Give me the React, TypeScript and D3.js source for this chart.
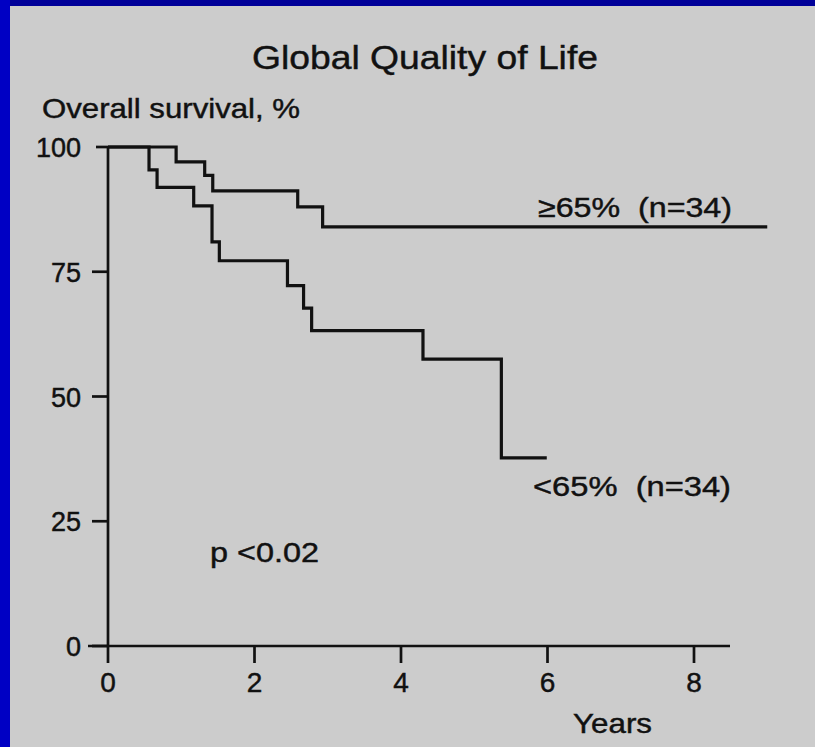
import React from "react";
import * as d3 from "d3";

// Kaplan–Meier steps: time (years) and overall survival (%)
const highQolTimes = [0, 0.93, 1.32, 1.43, 2.59, 2.93, 9.0];
const highQolSurvival = [100, 97, 94.3, 91.2, 88, 84, 84];

const lowQolTimes = [0, 0.56, 0.67, 1.17, 1.42, 1.52, 2.45, 2.67, 2.78, 4.3, 5.37, 5.99];
const lowQolSurvival = [100, 95.4, 91.9, 88.2, 81.0, 77.2, 72.2, 67.7, 63.2, 57.5, 37.7, 37.7];

const xTicks = [0, 2, 4, 6, 8];
const yTicks = [0, 25, 50, 75, 100];

const seriesLabels = ["\u226565%  (n=34)", "<65%  (n=34)"];
const pValueLabel = "p <0.02";

const W = 815;
const H = 747;

const x = d3.scaleLinear().domain([0, 8]).range([108, 694]);
const y = d3.scaleLinear().domain([0, 100]).range([646, 147]);

const stepLine = d3
  .line<[number, number]>()
  .x((d) => x(d[0]))
  .y((d) => y(d[1]))
  .curve(d3.curveStepAfter);

const zip = (t: number[], s: number[]): [number, number][] => t.map((v, i) => [v, s[i]]);

const FONT = "Arial, 'Liberation Sans', Helvetica, sans-serif";
const INK = "#111";

// slightly heavier glyphs, like a printed figure
const textInk = { fill: INK, stroke: INK, strokeWidth: 0.45 };

export default function App() {
  const highPath = stepLine(zip(highQolTimes, highQolSurvival)) || "";
  const lowPath = stepLine(zip(lowQolTimes, lowQolSurvival)) || "";

  return (
    <svg
      width={W}
      height={H}
      viewBox={`0 0 ${W} ${H}`}
      style={{ position: "absolute", left: 0, top: 0, display: "block" }}
      fontFamily={FONT}
    >
      <rect x={0} y={0} width={W} height={H} fill="#cccccc" />
      <rect x={0} y={0} width={W} height={6} fill="#000099" />
      <rect x={0} y={0} width={10} height={H} fill="#0000c4" />

      <text x={252} y={69} fontSize={34} {...textInk} textLength={346} lengthAdjust="spacingAndGlyphs">
        Global Quality of Life
      </text>
      <text x={42} y={118} fontSize={28} {...textInk} textLength={258} lengthAdjust="spacingAndGlyphs">
        Overall survival, %
      </text>

      {/* axes */}
      <line x1={x(0)} x2={x(0)} y1={y(100)} y2={y(0)} stroke={INK} strokeWidth={2.7} />
      <line x1={88} x2={730} y1={y(0)} y2={y(0)} stroke={INK} strokeWidth={2.7} />
      {yTicks.map((t) => (
        <g key={`y${t}`}>
          <line x1={t === 100 ? 96 : 92} x2={x(0)} y1={y(t)} y2={y(t)} stroke={INK} strokeWidth={2.7} />
          <text x={81} y={y(t) + 10} fontSize={27} {...textInk} textAnchor="end">
            {t}
          </text>
        </g>
      ))}
      {xTicks.map((t) => (
        <g key={`x${t}`}>
          <line x1={x(t)} x2={x(t)} y1={y(0)} y2={y(0) + 17} stroke={INK} strokeWidth={2.7} />
          <text x={x(t)} y={692} fontSize={28} {...textInk} textAnchor="middle">
            {t}
          </text>
        </g>
      ))}
      <text x={573} y={733} fontSize={28} {...textInk} textLength={79} lengthAdjust="spacingAndGlyphs">
        Years
      </text>

      {/* survival curves */}
      <path d={highPath} fill="none" stroke={INK} strokeWidth={3.2} />
      <path d={lowPath} fill="none" stroke={INK} strokeWidth={3.2} />

      <text x={538} y={217} fontSize={28} {...textInk} style={{ whiteSpace: "pre" }} textLength={194} lengthAdjust="spacingAndGlyphs">
        {seriesLabels[0]}
      </text>
      <text x={533} y={496} fontSize={28} {...textInk} style={{ whiteSpace: "pre" }} textLength={198} lengthAdjust="spacingAndGlyphs">
        {seriesLabels[1]}
      </text>
      <text x={210} y={562} fontSize={28} {...textInk} textLength={109} lengthAdjust="spacingAndGlyphs">
        {pValueLabel}
      </text>
    </svg>
  );
}
